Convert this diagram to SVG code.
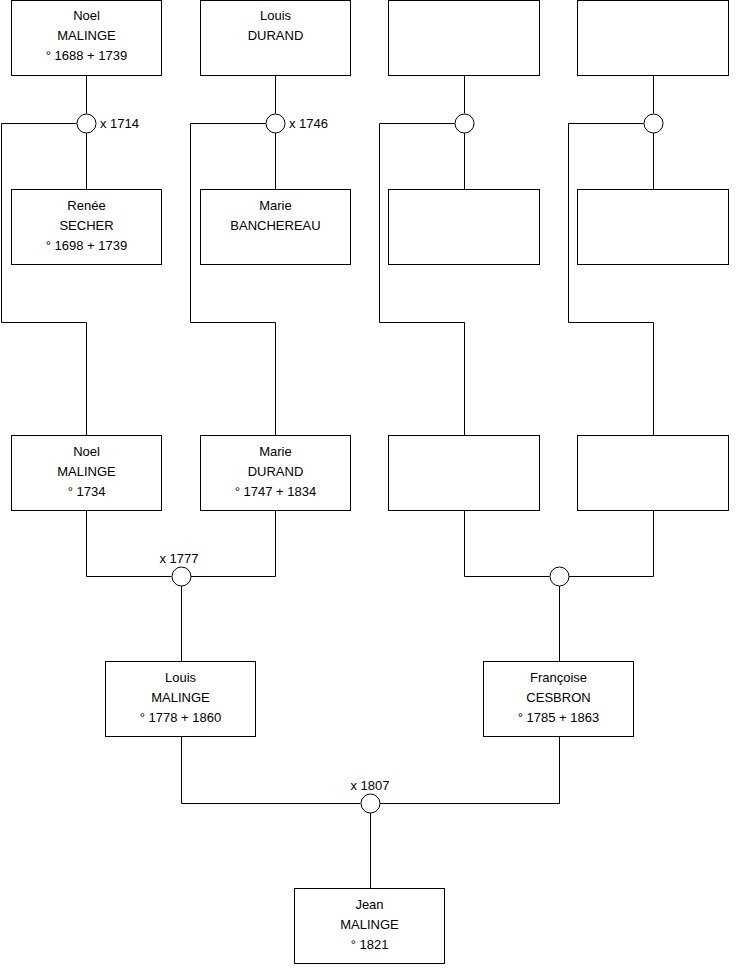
<svg xmlns="http://www.w3.org/2000/svg" width="740" height="975" viewBox="0 0 740 975">
<style>
.box{fill:#fff;stroke:#000;stroke-width:1}
.m{fill:#fff;stroke:#000;stroke-width:1}
.c{fill:none;stroke:#000;stroke-width:1}
text{font-family:"Liberation Sans",Arial,sans-serif;font-size:13px;fill:#000}
.t{text-anchor:middle}
</style>
<rect width="740" height="975" fill="#fff"/>
<g id="connectors">
<path class="c" d="M86.5 76V113.5M86.5 132.5V189M76.5 123.5H1.5V322.5H86.5V435"/>
<path class="c" d="M275.5 76V113.5M275.5 132.5V189M265.5 123.5H190.5V322.5H275.5V435"/>
<path class="c" d="M464.5 76V113.5M464.5 132.5V189M454.5 123.5H379.5V322.5H464.5V435"/>
<path class="c" d="M653.5 76V113.5M653.5 132.5V189M643.5 123.5H568.5V322.5H653.5V435"/>
<path class="c" d="M86.5 511V576.5H171.5M190.5 576.5H275.5V511M181.5 586V661"/>
<path class="c" d="M464.5 511V576.5H549.5M568.5 576.5H653.5V511M559.5 586V661"/>
<path class="c" d="M181.5 737V803.5H360.5M379.5 803.5H559.5V737M370.5 813V888"/>
</g>
<g id="m1"><circle class="m" cx="86.5" cy="123.5" r="9.5"/><text x="100" y="128">x 1714</text></g>
<g id="m2"><circle class="m" cx="275.5" cy="123.5" r="9.5"/><text x="289" y="128">x 1746</text></g>
<g id="m3"><circle class="m" cx="464.5" cy="123.5" r="9.5"/></g>
<g id="m4"><circle class="m" cx="653.5" cy="123.5" r="9.5"/></g>
<g id="m5"><circle class="m" cx="181.5" cy="576.5" r="9.5"/><text class="t" x="179" y="563">x 1777</text></g>
<g id="m6"><circle class="m" cx="559.5" cy="576.5" r="9.5"/></g>
<g id="m7"><circle class="m" cx="370.5" cy="803.5" r="9.5"/><text class="t" x="370" y="790">x 1807</text></g>
<g id="p1"><rect class="box" x="11.5" y="0.5" width="150" height="75"/><text class="t" x="86.5" y="20">Noel</text><text class="t" x="86.5" y="40">MALINGE</text><text class="t" x="86.5" y="60">° 1688 + 1739</text></g>
<g id="p2"><rect class="box" x="200.5" y="0.5" width="150" height="75"/><text class="t" x="275.5" y="20">Louis</text><text class="t" x="275.5" y="40">DURAND</text></g>
<g id="p3"><rect class="box" x="388.5" y="0.5" width="151" height="75"/></g>
<g id="p4"><rect class="box" x="577.5" y="0.5" width="151" height="75"/></g>
<g id="p5"><rect class="box" x="11.5" y="189.5" width="150" height="75"/><text class="t" x="86.5" y="210">Renée</text><text class="t" x="86.5" y="230">SECHER</text><text class="t" x="86.5" y="250">° 1698 + 1739</text></g>
<g id="p6"><rect class="box" x="200.5" y="189.5" width="150" height="75"/><text class="t" x="275.5" y="210">Marie</text><text class="t" x="275.5" y="230">BANCHEREAU</text></g>
<g id="p7"><rect class="box" x="388.5" y="189.5" width="151" height="75"/></g>
<g id="p8"><rect class="box" x="577.5" y="189.5" width="151" height="75"/></g>
<g id="p9"><rect class="box" x="11.5" y="435.5" width="150" height="75"/><text class="t" x="86.5" y="456">Noel</text><text class="t" x="86.5" y="476">MALINGE</text><text class="t" x="86.5" y="496">° 1734</text></g>
<g id="p10"><rect class="box" x="200.5" y="435.5" width="150" height="75"/><text class="t" x="275.5" y="456">Marie</text><text class="t" x="275.5" y="476">DURAND</text><text class="t" x="275.5" y="496">° 1747 + 1834</text></g>
<g id="p11"><rect class="box" x="388.5" y="435.5" width="151" height="75"/></g>
<g id="p12"><rect class="box" x="577.5" y="435.5" width="151" height="75"/></g>
<g id="p13"><rect class="box" x="105.5" y="661.5" width="150" height="75"/><text class="t" x="180.5" y="682">Louis</text><text class="t" x="180.5" y="702">MALINGE</text><text class="t" x="180.5" y="722">° 1778 + 1860</text></g>
<g id="p14"><rect class="box" x="483.5" y="661.5" width="150" height="75"/><text class="t" x="558.5" y="682">Françoise</text><text class="t" x="558.5" y="702">CESBRON</text><text class="t" x="558.5" y="722">° 1785 + 1863</text></g>
<g id="p15"><rect class="box" x="294.5" y="888.5" width="150" height="75"/><text class="t" x="369.5" y="909">Jean</text><text class="t" x="369.5" y="929">MALINGE</text><text class="t" x="369.5" y="949">° 1821</text></g>
</svg>
